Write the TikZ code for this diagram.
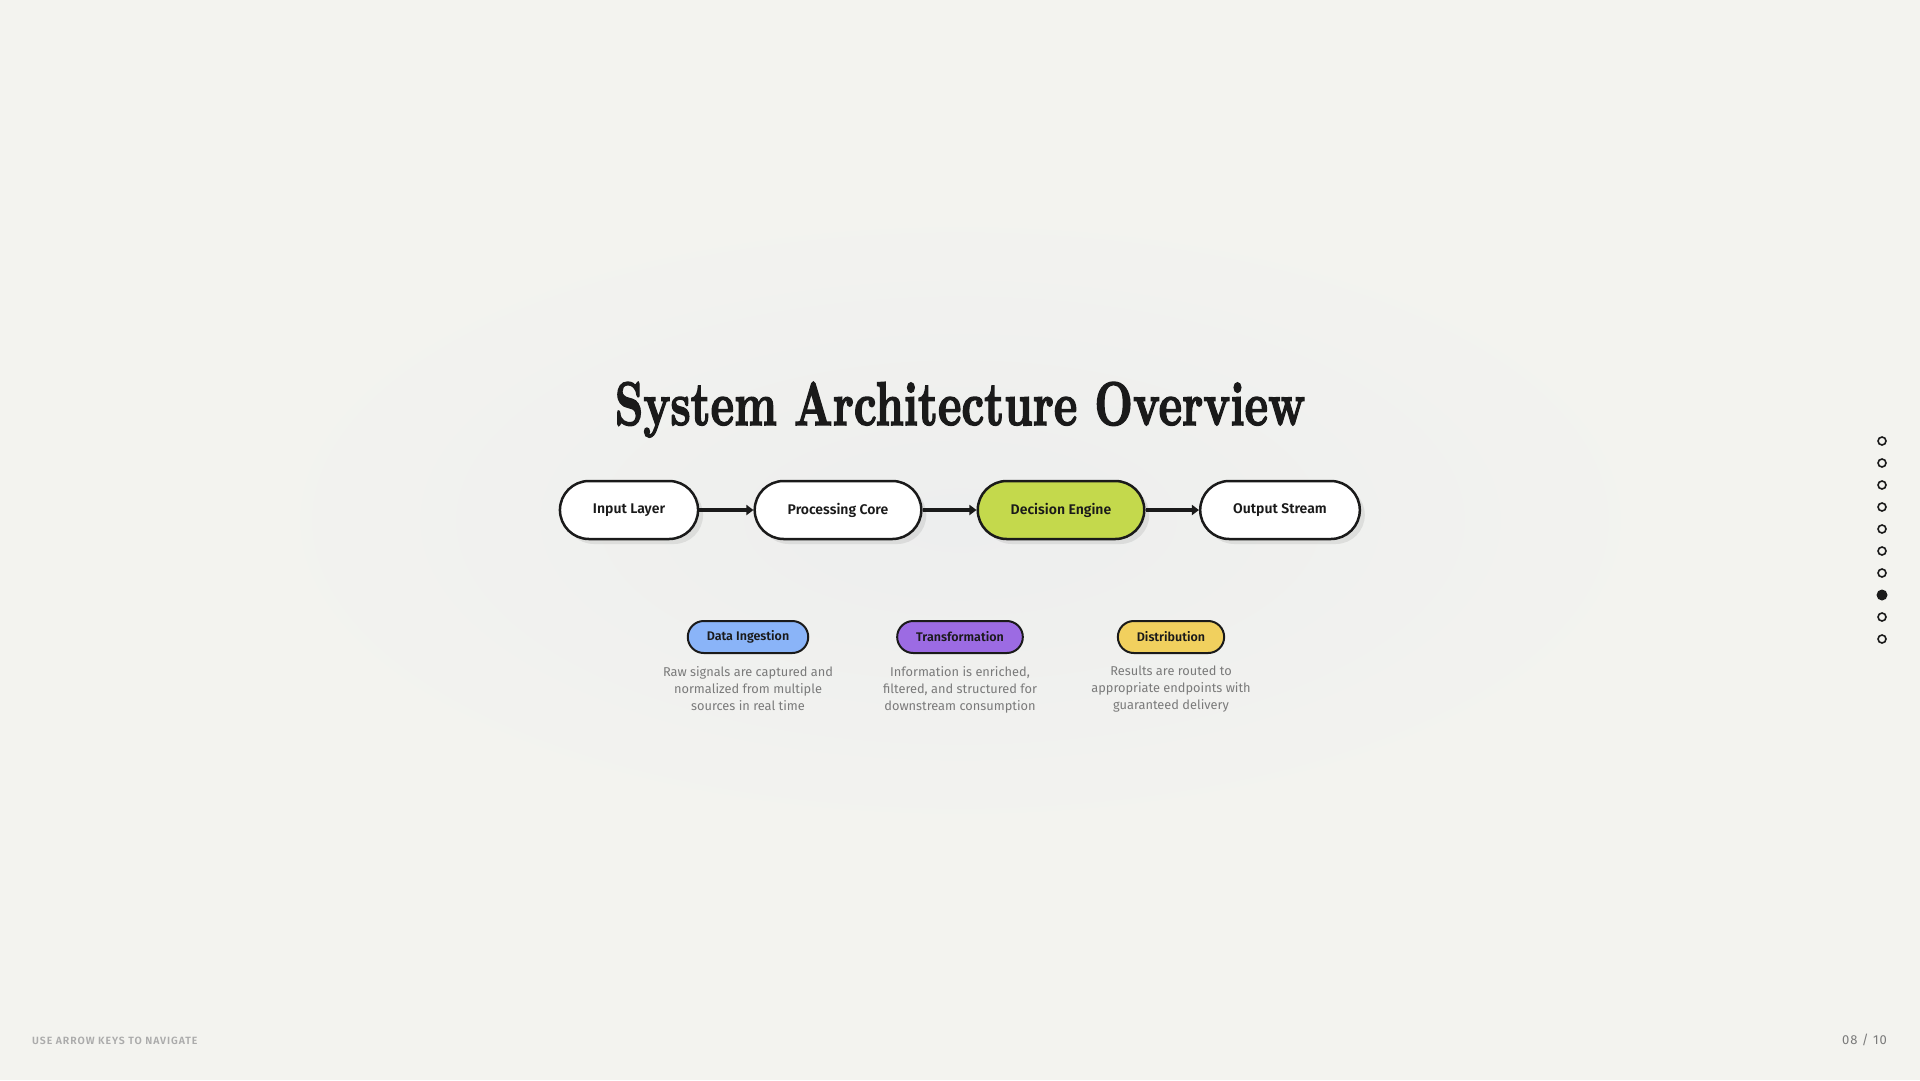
\documentclass[tikz,border=0pt]{standalone}
\usepackage{fontspec}
\usepackage{graphicx}
\setsansfont{Fira Sans}[BoldFont={Fira Sans SemiBold}]
\newfontfamily\titlefont{lmroman10-bold.otf}[FakeBold=2.5]
\usetikzlibrary{positioning, arrows.meta, shadows}
\definecolor{slidebg}{HTML}{F3F3EF}
\definecolor{slideglow}{HTML}{EDEEEE}
\definecolor{inkdark}{HTML}{1A1A1A}
\definecolor{descgray}{HTML}{7A7A7A}
\definecolor{footgray}{HTML}{ABABAB}
\definecolor{enginegreen}{HTML}{C4D94C}
\definecolor{tagblue}{HTML}{8AB4F8}
\definecolor{tagpurple}{HTML}{9C6BE3}
\definecolor{tagyellow}{HTML}{F1D05E}

\begin{document}
\begin{tikzpicture}[x=1pt, y=-1pt,
    stage/.style={draw=inkdark, line width=2.5pt, fill=white, rounded corners=29pt,
      minimum height=58pt, inner xsep=33pt, text=inkdark,
      font=\sffamily\bfseries\fontsize{14}{17}\selectfont,
      drop shadow={shadow xshift=5pt, shadow yshift=-5pt, fill=black, opacity=0.08}},
    tagpill/.style={draw=inkdark, line width=2pt, rounded corners=16pt,
      minimum height=32pt, inner xsep=19pt, text=inkdark,
      font=\sffamily\bfseries\fontsize{12.5}{14}\selectfont},
    desc/.style={align=center, text=descgray, inner sep=0pt,
      font=\sffamily\fontsize{12.8}{17}\selectfont},
    flowarrow/.style={draw=inkdark, line width=4pt, -{Triangle[length=7pt,width=10pt]}},
    navdot/.style={draw=inkdark, line width=1.6pt}]
  \useasboundingbox (0,0) rectangle (1920,1080);
  \fill[slidebg] (0,0) rectangle (1920,1080);
  \shade[inner color=slideglow, outer color=slidebg] (960,520) ellipse [x radius=720pt, y radius=320pt];

  % title
  \node[anchor=base, text=inkdark, inner sep=0pt] (title) at (960,425)
    {\resizebox{690pt}{43pt}{\titlefont System Architecture Overview}};

  % pipeline
  \node[stage] (inlayer) at (629,510) {Input Layer};
  \node[stage] (proccore) at (838,510) {Processing Core};
  \node[stage, fill=enginegreen] (decengine) at (1061,510) {Decision Engine};
  \node[stage] (outstream) at (1280,510) {Output Stream};
  \draw[flowarrow] (inlayer) -- (proccore);
  \draw[flowarrow] (proccore) -- (decengine);
  \draw[flowarrow] (decengine) -- (outstream);

  % stages explained
  \node[tagpill, fill=tagblue] (tagingest) at (748,637) {Data Ingestion};
  \node[tagpill, fill=tagpurple] (tagtrans) at (960,637) {Transformation};
  \node[tagpill, fill=tagyellow] (tagdist) at (1171,637) {Distribution};
  \node[desc, below=12pt of tagingest] (descingest)
    {Raw signals are captured and\\normalized from multiple\\sources in real time};
  \node[desc, below=12pt of tagtrans] (desctrans)
    {Information is enriched,\\filtered, and structured for\\downstream consumption};
  \node[desc, below=12pt of tagdist] (descdist)
    {Results are routed to\\appropriate endpoints with\\guaranteed delivery};

  % slide navigation
  \foreach \i in {0,...,9} {
    \ifnum\i=7
      \fill[inkdark] (1882,441+22*\i) circle (5.5pt);
    \else
      \draw[navdot] (1882,441+22*\i) circle (4pt);
    \fi
  }
  \node[anchor=west, text=footgray, inner sep=0pt,
    font=\sffamily\bfseries\fontsize{10.5}{12}\selectfont\addfontfeature{LetterSpace=9}] (navhint) at (32,1041)
    {USE ARROW KEYS TO NAVIGATE};
  \node[anchor=east, text=descgray, inner sep=0pt,
    font=\sffamily\fontsize{13}{15}\selectfont\addfontfeature{LetterSpace=7}] (pagecount) at (1887,1040)
    {08 / 10};
\end{tikzpicture}
\end{document}
